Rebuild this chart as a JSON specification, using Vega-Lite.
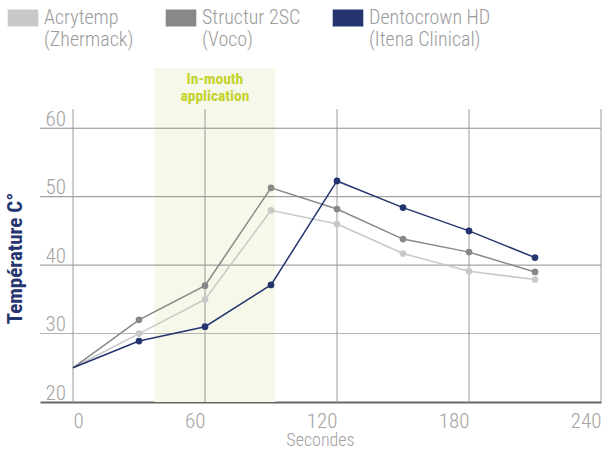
{
  "$schema": "https://vega.github.io/schema/vega-lite/v6.json",
  "width": 561,
  "height": 334,
  "autosize": {"type": "none"},
  "padding": {"left": 40, "top": 68, "right": 2, "bottom": 48},
  "background": "white",
  "config": {
    "font": "Roboto Condensed",
    "view": {"stroke": null},
    "axis": {"grid": false, "ticks": false, "tickSize": 0}
  },
  "resolve": {"legend": {"color": "independent"}},
  "datasets": {
    "temps": [
      {"t": 0, "temp": 25, "material": "Acrytemp (Zhermack)"},
      {"t": 30, "temp": 30, "material": "Acrytemp (Zhermack)"},
      {"t": 60, "temp": 35, "material": "Acrytemp (Zhermack)"},
      {"t": 90, "temp": 48, "material": "Acrytemp (Zhermack)"},
      {"t": 120, "temp": 46, "material": "Acrytemp (Zhermack)"},
      {"t": 150, "temp": 41.7, "material": "Acrytemp (Zhermack)"},
      {"t": 180, "temp": 39.1, "material": "Acrytemp (Zhermack)"},
      {"t": 210, "temp": 37.9, "material": "Acrytemp (Zhermack)"},
      {"t": 0, "temp": 25, "material": "Structur 2SC (Voco)"},
      {"t": 30, "temp": 32, "material": "Structur 2SC (Voco)"},
      {"t": 60, "temp": 37, "material": "Structur 2SC (Voco)"},
      {"t": 90, "temp": 51.3, "material": "Structur 2SC (Voco)"},
      {"t": 120, "temp": 48.2, "material": "Structur 2SC (Voco)"},
      {"t": 150, "temp": 43.8, "material": "Structur 2SC (Voco)"},
      {"t": 180, "temp": 41.9, "material": "Structur 2SC (Voco)"},
      {"t": 210, "temp": 39, "material": "Structur 2SC (Voco)"},
      {"t": 0, "temp": 25, "material": "Dentocrown HD (Itena Clinical)"},
      {"t": 30, "temp": 28.9, "material": "Dentocrown HD (Itena Clinical)"},
      {"t": 60, "temp": 31, "material": "Dentocrown HD (Itena Clinical)"},
      {"t": 90, "temp": 37.1, "material": "Dentocrown HD (Itena Clinical)"},
      {"t": 120, "temp": 52.3, "material": "Dentocrown HD (Itena Clinical)"},
      {"t": 150, "temp": 48.4, "material": "Dentocrown HD (Itena Clinical)"},
      {"t": 180, "temp": 45, "material": "Dentocrown HD (Itena Clinical)"},
      {"t": 210, "temp": 41.1, "material": "Dentocrown HD (Itena Clinical)"}
    ]
  },
  "layer": [
    {
      "data": {"values": [{"start": 37, "end": 92}]},
      "mark": {"type": "rect", "color": "#f6f8e9"},
      "encoding": {
        "x": {"field": "start", "type": "quantitative", "scale": {"domain": [-15, 240], "nice": false, "zero": false}},
        "x2": {"field": "end"},
        "y": {"datum": 20, "type": "quantitative", "scale": {"domain": [20, 68.8], "nice": false, "zero": false}},
        "y2": {"datum": 68.8}
      }
    },
    {
      "data": {"values": [{"g": 30}, {"g": 40}, {"g": 50}, {"g": 60}]},
      "mark": {"type": "rule", "strokeWidth": 1},
      "encoding": {
        "y": {"field": "g", "type": "quantitative", "scale": {"domain": [20, 68.8], "nice": false, "zero": false}},
        "color": {"condition": {"test": "datum.g == 30", "value": "#b4b4b4"}, "value": "#8c8c8c"}
      }
    },
    {
      "data": {"values": [{"v": 0}, {"v": 60}, {"v": 120}, {"v": 180}, {"v": 240}]},
      "mark": {"type": "rule", "strokeWidth": 1, "color": "#9a9a9a"},
      "encoding": {
        "x": {"field": "v", "type": "quantitative", "scale": {"domain": [-15, 240], "nice": false, "zero": false}},
        "y": {"datum": 20, "type": "quantitative", "scale": {"domain": [20, 68.8], "nice": false, "zero": false}},
        "y2": {"datum": 62.8}
      }
    },
    {
      "data": {"values": [{"mid": 64.5, "label": "In-mouth|application"}]},
      "mark": {"type": "text", "lineBreak": "|", "font": "Roboto Condensed", "fontWeight": "bold", "fontSize": 15.5, "lineHeight": 17, "baseline": "top", "align": "center", "dy": 4, "color": "#c2d22a"},
      "encoding": {
        "x": {"field": "mid", "type": "quantitative", "scale": {"domain": [-15, 240], "nice": false, "zero": false}},
        "y": {"datum": 68.8, "type": "quantitative", "scale": {"domain": [20, 68.8], "nice": false, "zero": false}},
        "text": {"field": "label"}
      }
    },
    {
      "data": {"name": "temps"},
      "mark": {"type": "line", "strokeWidth": 1.5},
      "encoding": {
        "x": {
          "field": "t", "type": "quantitative",
          "scale": {"domain": [-15, 240], "nice": false, "zero": false},
          "axis": {
            "values": [0, 60, 120, 180, 240],
            "domain": true, "domainColor": "#666666", "domainWidth": 2,
            "labelFontSize": 21, "labelColor": "#a3a3a3", "labelPadding": 8,
            "labelFont": "Roboto Condensed", "labelFontWeight": 300,
            "labelAlign": {"condition": {"test": "datum.value == 0", "value": "left"}, "value": "right"},
            "labelBaseline": "top",
            "title": "Secondes", "titleFontSize": 18, "titleColor": "#a0a0a0",
            "titleFont": "Roboto Condensed", "titleFontWeight": 300,
            "titleX": 280, "titleY": 43, "titleAlign": "center", "titleBaseline": "alphabetic"
          }
        },
        "y": {
          "field": "temp", "type": "quantitative",
          "scale": {"domain": [20, 68.8], "nice": false, "zero": false},
          "axis": {
            "values": [20, 30, 40, 50, 60],
            "domain": false,
            "labelFontSize": 21, "labelColor": "#a3a3a3", "labelPadding": -5,
            "labelFont": "Roboto Condensed", "labelFontWeight": 300,
            "labelAlign": "left", "labelBaseline": "alphabetic", "labelOffset": -3,
            "title": "Température C°", "titleFontSize": 21, "titleFontWeight": "bold",
            "titleFont": "Roboto Condensed", "titleColor": "#253570",
            "titleAngle": -90, "titleX": -25, "titleY": 190, "titleAlign": "center", "titleBaseline": "middle"
          }
        },
        "color": {
          "field": "material", "type": "nominal",
          "scale": {"domain": ["Acrytemp (Zhermack)", "Structur 2SC (Voco)", "Dentocrown HD (Itena Clinical)"], "range": ["#c8c8c8", "#888888", "#23346e"]},
          "legend": {
            "orient": "none", "legendX": -41, "legendY": -74,
            "direction": "horizontal", "columns": 3, "title": null,
            "symbolType": "stroke", "symbolSize": 936,
            "symbolStrokeWidth": 17, "symbolOpacity": 1,
            "labelFontSize": 20, "labelColor": "#9b9b9b", "labelFont": "Roboto Condensed", "labelFontWeight": 300,
            "labelOffset": -3, "columnPadding": -3, "labelBaseline": "middle", "labelLimit": 0,
            "labelExpr": "[split(datum.label, ' (')[0], '(' + split(datum.label, ' (')[1]]"
          }
        }
      }
    },
    {
      "data": {"name": "temps"},
      "transform": [{"filter": "datum.t > 0"}],
      "mark": {"type": "point", "filled": true, "opacity": 1, "size": 45},
      "encoding": {
        "x": {"field": "t", "type": "quantitative", "scale": {"domain": [-15, 240], "nice": false, "zero": false}},
        "y": {"field": "temp", "type": "quantitative", "scale": {"domain": [20, 68.8], "nice": false, "zero": false}},
        "color": {
          "field": "material", "type": "nominal",
          "scale": {"domain": ["Acrytemp (Zhermack)", "Structur 2SC (Voco)", "Dentocrown HD (Itena Clinical)"], "range": ["#c8c8c8", "#888888", "#23346e"]},
          "legend": null
        }
      }
    }
  ]
}
